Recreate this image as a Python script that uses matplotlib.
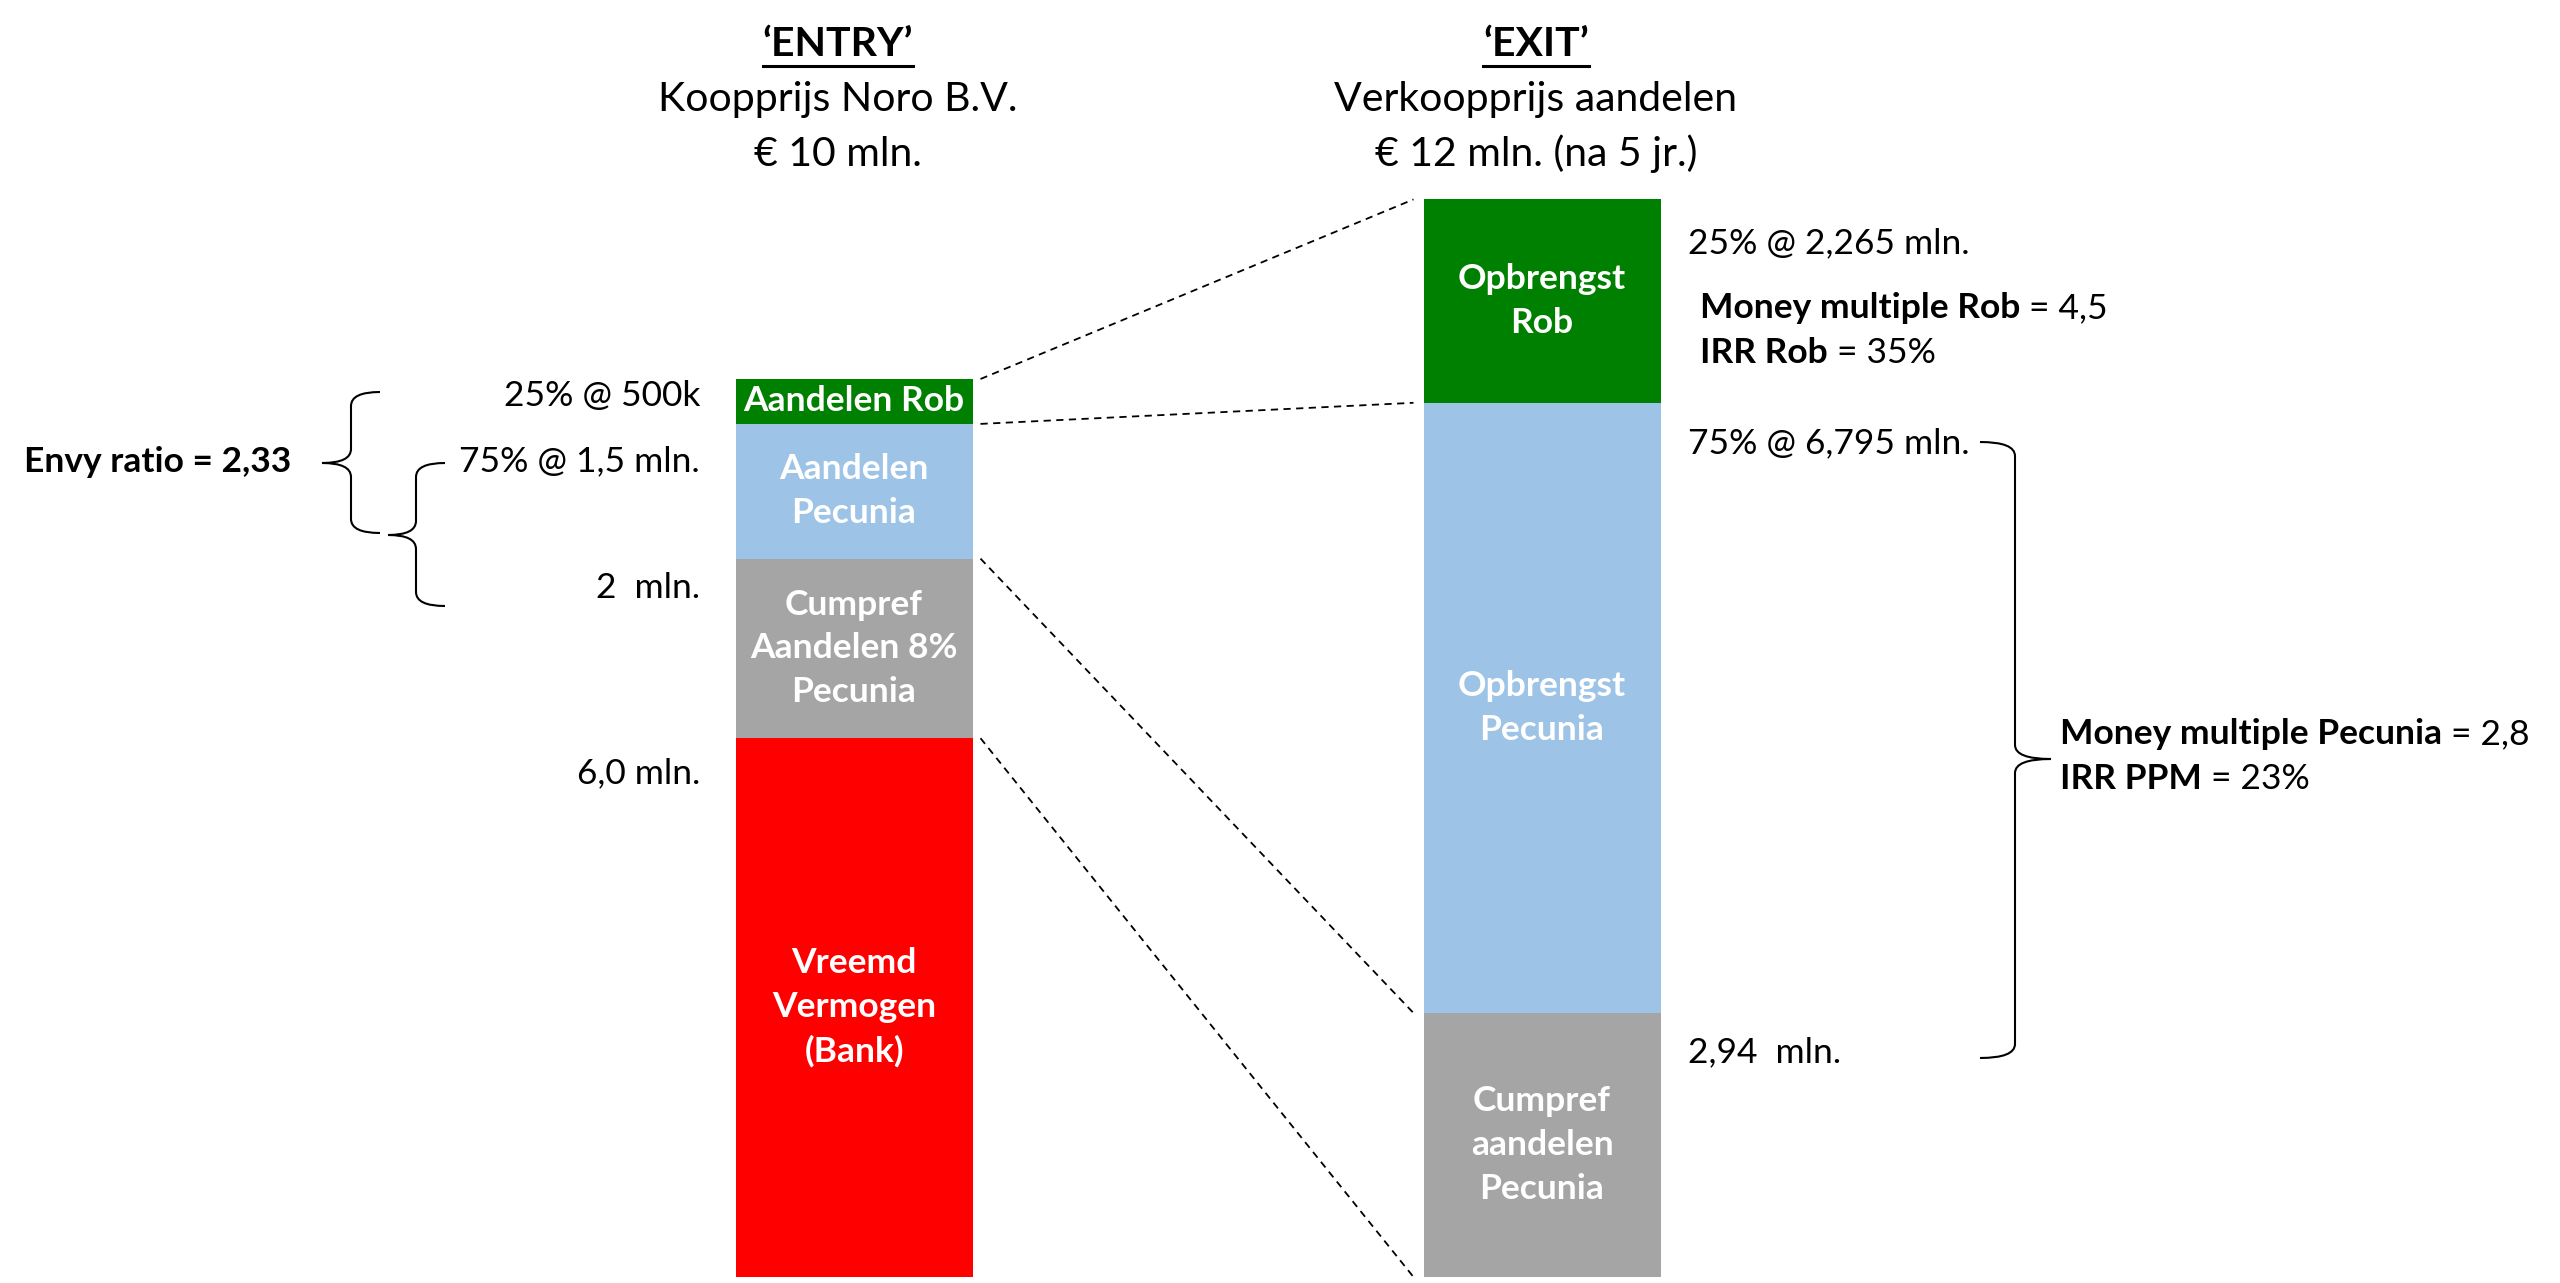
import matplotlib
matplotlib.use("Agg")
import matplotlib.pyplot as plt
from matplotlib.path import Path
from matplotlib.patches import PathPatch
import numpy as np

# --- data (mln euro), bottom segment first ---
entry_labels = ["Vreemd\nVermogen\n(Bank)", "Cumpref\nAandelen 8%\nPecunia", "Aandelen\nPecunia", "Aandelen Rob"]
entry_values = [6.0, 2.0, 1.5, 0.5]
entry_notes = ["6,0 mln.", "2  mln.", "75% @ 1,5 mln.", "25% @ 500k"]

exit_labels = ["Cumpref\naandelen\nPecunia", "Opbrengst\nPecunia", "Opbrengst\nRob"]
exit_values = [2.94, 6.795, 2.265]
exit_notes = ["2,94  mln.", "75% @ 6,795 mln.", "25% @ 2,265 mln."]

colors_entry = ["#FF0000", "#A5A5A5", "#9DC3E6", "#008000"]
colors_exit = ["#A5A5A5", "#9DC3E6", "#008000"]

entry_title = ["\u2018ENTRY\u2019", "Koopprijs Noro B.V.", "\u20ac 10 mln."]
exit_title = ["\u2018EXIT\u2019", "Verkoopprijs aandelen", "\u20ac 12 mln. (na 5 jr.)"]

plt.rcParams['font.family'] = ['Lato', 'DejaVu Sans']

W, H = 2560, 1283
Y0, PX = 1277.0, 89.8          # baseline pixel row and pixels per mln


def yd(p):
    # pixel row (from top) -> data y
    return (Y0 - p) / PX


fig = plt.figure(figsize=(W / 100, H / 100), dpi=100)
ax = fig.add_axes([0, 0, 1, 1])
ax.set_xlim(0, W)
ax.set_ylim(yd(H), yd(0))
ax.axis('off')

BW = 237
XL, XR = 854, 1542

# --- stacked bars ---
def stack(xc, values, labels, colors):
    bottoms = np.concatenate([[0], np.cumsum(values)[:-1]])
    ax.bar([xc] * len(values), values, bottom=bottoms, width=BW, color=colors, linewidth=0)
    for b, v, lab in zip(bottoms, values, labels):
        ax.text(xc, b + v / 2, lab, ha='center', va='center', color='white',
                fontsize=25.5, fontweight='bold', linespacing=1.45)
    return bottoms


eb = stack(XL, entry_values, entry_labels, colors_entry)
xb = stack(XR, exit_values, exit_labels, colors_exit)
etop = eb + np.array(entry_values)
xtop = xb + np.array(exit_values)

# --- dashed connectors ---
links = [(etop[3], xtop[2]), (etop[2], xtop[1]), (etop[1], xtop[0]), (etop[0], xb[0])]
for yl, yr in links:
    ax.plot([XL + BW / 2 + 8, XR - BW / 2 - 10], [yl, yr], color='black',
            lw=1.3, linestyle=(0, (4, 3)))

# --- titles ---
def title(xc, lines):
    t = ax.text(xc, yd(45), lines[0], ha='center', va='center', fontsize=29.5, fontweight='bold')
    ax.text(xc, yd(99), lines[1], ha='center', va='center', fontsize=29.5)
    ax.text(xc, yd(154), lines[2], ha='center', va='center', fontsize=29.5)
    return t


t1 = title(838, entry_title)
t2 = title(1536, exit_title)
fig.canvas.draw()
r = fig.canvas.get_renderer()
inv = ax.transData.inverted()
for t in (t1, t2):
    bb = t.get_window_extent(r)
    x0 = inv.transform((bb.x0, 0))[0]
    x1 = inv.transform((bb.x1, 0))[0]
    ax.plot([x0, x1], [yd(66), yd(66)], color='black', lw=2.2)

# --- notes next to bars ---
note_rows_left = [773, 588, 461, 396]
for s, p in zip(entry_notes, note_rows_left):
    ax.text(700, yd(p), s, ha='right', va='center', fontsize=25.5)

note_rows_right = [1052, 443, 243]
for s, p in zip(exit_notes, note_rows_right):
    ax.text(1688, yd(p), s, ha='left', va='center', fontsize=25.5)


def rich(x, p, parts, size=25.5):
    t = ax.text(x, yd(p), parts[0][0], ha='left', va='center', fontsize=size, fontweight=parts[0][1])
    for s, w in parts[1:]:
        t = ax.annotate(s, xy=(1, 0), xycoords=t, ha='left', va='bottom', fontsize=size, fontweight=w)


rich(1700, 308, [("Money multiple Rob", 'bold'), (" = 4,5", 'normal')])
rich(1700, 353, [("IRR Rob", 'bold'), (" = 35%", 'normal')])
rich(2060, 734, [("Money multiple Pecunia", 'bold'), (" = 2,8", 'normal')])
rich(2060, 779, [("IRR PPM", 'bold'), (" = 23%", 'normal')])
ax.text(24, yd(462), "Envy ratio = 2,33", ha='left', va='center', fontsize=25.5, fontweight='bold')

# --- curly braces ---
def brace(x_end, x_back, x_tip, top, mid, bot, rr=14):
    pts = [(x_end, top), (x_back, top), (x_back, top + rr),
           (x_back, mid - rr), (x_back, mid), (x_tip, mid),
           (x_back, mid), (x_back, mid + rr),
           (x_back, bot - rr), (x_back, bot), (x_end, bot)]
    codes = [Path.MOVETO, Path.CURVE3, Path.CURVE3,
             Path.LINETO, Path.CURVE3, Path.CURVE3,
             Path.CURVE3, Path.CURVE3,
             Path.LINETO, Path.CURVE3, Path.CURVE3]
    verts = [(x, yd(p)) for x, p in pts]
    ax.add_patch(PathPatch(Path(verts, codes), fill=False, lw=1.5, color='black'))


brace(380, 351, 322, 392, 463, 533)
brace(445, 416, 388, 463, 535, 606)
brace(1980, 2015, 2051, 442, 759, 1058)

fig.savefig("out.png", dpi=100)
